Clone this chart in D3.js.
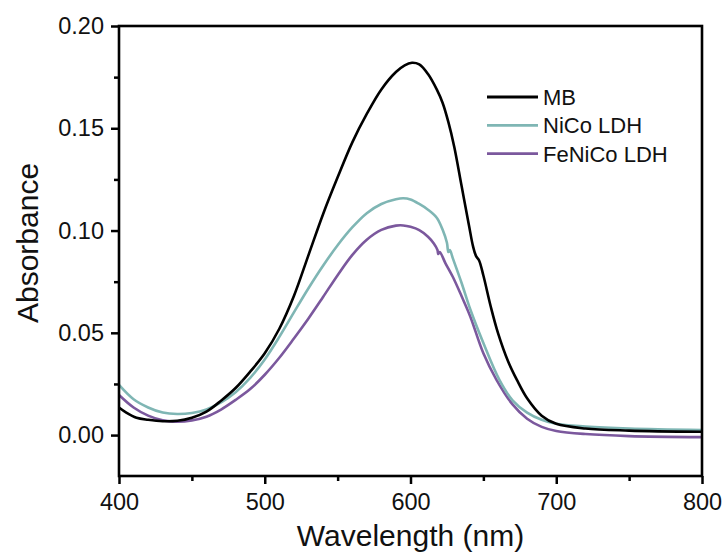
<!DOCTYPE html>
<html>
<head>
<meta charset="utf-8">
<script src="https://cdn.jsdelivr.net/npm/d3@7"></script>
<style>
  html, body { margin: 0; padding: 0; background: #fff; }
  svg { display: block; }
  text { font-family: "Liberation Sans", Arial, Helvetica, sans-serif; fill: #111; }
</style>
</head>
<body>
<svg id="chart" width="726" height="559"></svg>
<script>
// ---- data ----
const seriesNames = ["MB", "NiCo LDH", "FeNiCo LDH"];
const seriesColors = ["#000000", "#7fb6b4", "#7b589d"];

const mbWl  = [400,405,412,420,430,440,450,460,470,480,490,500,510,520,530,540,550,560,570,580,590,596,601,606,612,618,622,626,630,635,640,643,645,647,650,655,660,667,673,680,690,700,720,750,800];
const mbAbs = [0.0135,0.011,0.0085,0.0075,0.0068,0.007,0.0085,0.0115,0.0168,0.023,0.031,0.040,0.052,0.068,0.088,0.108,0.126,0.143,0.157,0.169,0.1775,0.1808,0.182,0.1812,0.1765,0.169,0.1625,0.153,0.141,0.122,0.103,0.092,0.0875,0.0855,0.078,0.063,0.050,0.036,0.027,0.018,0.0095,0.0055,0.0032,0.0022,0.0016];

const nicoWl  = [400,410,420,430,440,450,460,470,480,490,500,510,520,530,540,550,560,570,580,590,595,600,606,612,618,622,625,626,627,629,635,641,650,661,670,680,690,700,720,750,800];
const nicoAbs = [0.0245,0.0175,0.0135,0.011,0.0103,0.0108,0.0125,0.016,0.021,0.028,0.037,0.048,0.060,0.0718,0.0828,0.0928,0.1015,0.1085,0.113,0.1153,0.1158,0.1152,0.113,0.1102,0.1063,0.1005,0.094,0.0895,0.0905,0.0865,0.0745,0.0615,0.045,0.027,0.017,0.011,0.0075,0.0055,0.0042,0.0032,0.0025];

const fenicoWl  = [400,410,420,430,440,450,460,470,480,490,500,510,520,530,540,550,560,570,580,590,595,600,606,612,616,618.5,619,620,624,629,635,641,650,659,670,680,690,700,720,750,800];
const fenicoAbs = [0.0196,0.0135,0.0095,0.0072,0.0066,0.0072,0.009,0.0125,0.0172,0.0225,0.0295,0.0378,0.0472,0.057,0.0675,0.0782,0.088,0.0955,0.1003,0.1024,0.1025,0.1018,0.1002,0.097,0.0937,0.0905,0.0885,0.0895,0.084,0.0774,0.068,0.058,0.040,0.027,0.015,0.008,0.004,0.002,0.0005,-0.0005,-0.001];

const xMajorTicks = [400, 500, 600, 700, 800];
const xMinorTicks = [450, 550, 650, 750];
const yMajorTicks = [0.00, 0.05, 0.10, 0.15, 0.20];
const yMinorTicks = [0.025, 0.075, 0.125, 0.175];

const xTitle = "Wavelength (nm)";
const yTitle = "Absorbance";

// ---- layout ----
const svg = d3.select("#chart");
const L = 119, R = 702, T = 26, B = 476;

const x = d3.scaleLinear().domain([400, 800]).range([L, R]);
const y = d3.scaleLinear().domain([-0.02, 0.20]).range([B, T]);

const series = [
  { name: seriesNames[0], color: seriesColors[0], pts: mbWl.map((w, i) => [w, mbAbs[i]]) },
  { name: seriesNames[1], color: seriesColors[1], pts: nicoWl.map((w, i) => [w, nicoAbs[i]]) },
  { name: seriesNames[2], color: seriesColors[2], pts: fenicoWl.map((w, i) => [w, fenicoAbs[i]]) }
];

const line = d3.line()
  .x(d => x(d[0]))
  .y(d => y(d[1]))
  .curve(d3.curveCatmullRom.alpha(0.5));

// curves (draw purple, teal, then black on top)
const gLines = svg.append("g");
[series[2], series[1], series[0]].forEach(s => {
  gLines.append("path")
    .datum(s.pts)
    .attr("fill", "none")
    .attr("stroke", s.color)
    .attr("stroke-width", 2.6)
    .attr("stroke-linejoin", "round")
    .attr("d", line);
});

// axes
const fmtY = d3.format(".2f");
const xAxis = svg.append("g")
  .attr("transform", `translate(0,${B})`)
  .call(d3.axisBottom(x).tickValues(xMajorTicks).tickSize(8).tickPadding(9).tickFormat(d3.format("d")));
const xAxisMinor = svg.append("g")
  .attr("transform", `translate(0,${B})`)
  .call(d3.axisBottom(x).tickValues(xMinorTicks).tickSize(5).tickFormat(""));
const yAxis = svg.append("g")
  .attr("transform", `translate(${L},0)`)
  .call(d3.axisLeft(y).tickValues(yMajorTicks).tickSize(8).tickPadding(7).tickFormat(fmtY));
const yAxisMinor = svg.append("g")
  .attr("transform", `translate(${L},0)`)
  .call(d3.axisLeft(y).tickValues(yMinorTicks).tickSize(5).tickFormat(""));

[xAxis, xAxisMinor, yAxis, yAxisMinor].forEach(g => {
  g.select(".domain").remove();
  g.selectAll(".tick line").attr("stroke", "#000").attr("stroke-width", 2.5);
  g.selectAll(".tick text")
    .style("font-family", "'Liberation Sans', Arial, sans-serif")
    .style("font-size", "23.5px")
    .attr("fill", "#111");
});

// frame
svg.append("rect")
  .attr("x", L).attr("y", T)
  .attr("width", R - L).attr("height", B - T)
  .attr("fill", "none")
  .attr("stroke", "#000")
  .attr("stroke-width", 2.6);

// axis titles
svg.append("text")
  .attr("x", (L + R) / 2)
  .attr("y", 546)
  .attr("text-anchor", "middle")
  .style("font-size", "30px")
  .text(xTitle);

svg.append("text")
  .attr("transform", `translate(38,${(T + B) / 2 - 8}) rotate(-90)`)
  .attr("text-anchor", "middle")
  .style("font-size", "30px")
  .text(yTitle);

// legend
const lg = svg.append("g").attr("transform", "translate(487,97)");
series.forEach((s, i) => {
  const g = lg.append("g").attr("transform", `translate(0,${i * 28.3})`);
  g.append("line")
    .attr("x1", 0).attr("x2", 51)
    .attr("y1", 0).attr("y2", 0)
    .attr("stroke", s.color)
    .attr("stroke-width", 2.8);
  g.append("text")
    .attr("x", 56)
    .attr("y", 8)
    .style("font-size", "22px")
    .text(s.name);
});
</script>
</body>
</html>
